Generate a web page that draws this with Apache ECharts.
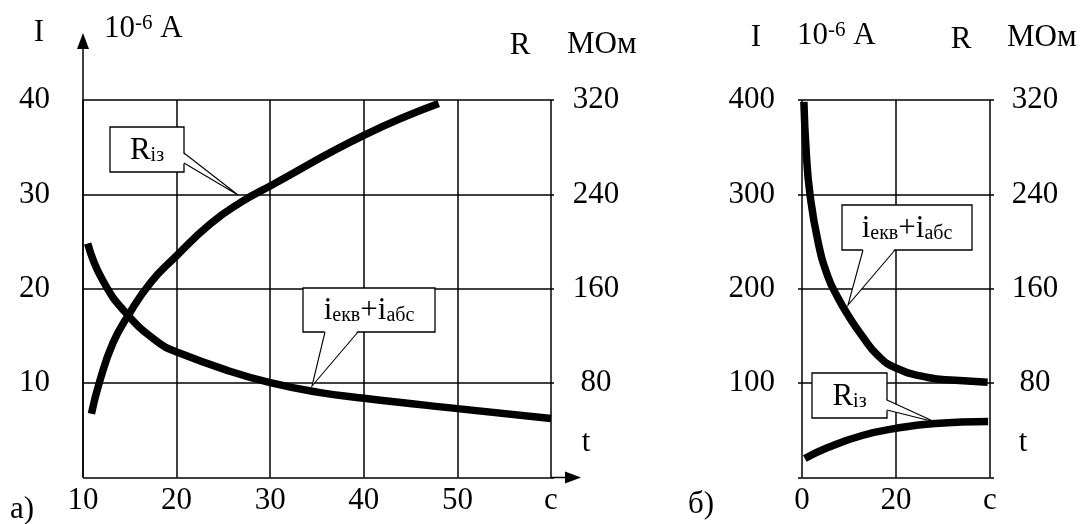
<!DOCTYPE html>
<html><head><meta charset="utf-8">
<script src="https://cdn.jsdelivr.net/npm/echarts@6/dist/echarts.min.js"></script>
<style>html,body{margin:0;padding:0;background:#fff}#c{width:1085px;height:524px}</style>
</head><body><div id="c"></div>
<script>
const FONT = 'Liberation Serif';
// ---- Chart а): t (c), current I (10^-6 A, left axis), resistance R (MOм, right axis)
const aCurT = [10.5, 12.1, 14.8, 18.2, 20, 25.4, 30, 35, 40, 50, 60];
const aCurI = [24.8, 20.9, 17.2, 14.2, 13.3, 11.35, 10.05, 9.05, 8.4, 7.3, 6.25];
const aResT = [10.9, 11.8, 13.2, 14.8, 17.2, 20, 23.6, 26.8, 30.2, 40, 48];
const aResR = [54, 82, 114, 137, 165, 188, 215, 233, 248, 290, 317];
// ---- Chart б)
const bCurT = [0.4, 0.9, 1.7, 3.4, 5.5, 7.7, 9.8, 12.8, 16.2, 20, 26.8, 32.6, 39.5];
const bCurI = [398, 345, 300, 250, 213, 190, 172, 150, 129, 116, 106, 103, 101];
const bResT = [0.6, 5.5, 12.8, 20, 28.3, 39.6];
const bResR = [16.1, 25.4, 35.6, 41.6, 45.8, 47.5];
// ---- tick label texts
const aXLabels = {10:'10', 20:'20', 30:'30', 40:'40', 50:'50', 60:'с'};
const bXLabels = {0:'0', 20:'20', 40:'с'};

const pairs = (xs, ys) => xs.map((x, i) => [x, ys[i]]);
const LW = 1.5;
const tickFont = {fontFamily: FONT, fontSize: 31, color: '#000'};
const splitL = {show: true, lineStyle: {color: '#000', width: LW}};
const noZero = v => (v === 0 ? '' : String(v));

function xAx(grid, min, max, interval, labels) {
  return {type: 'value', gridIndex: grid, min, max, interval,
    axisLine: {show: false}, axisTick: {show: false}, splitLine: splitL,
    axisLabel: Object.assign({margin: 8, showMinLabel: true, showMaxLabel: true,
      formatter: v => labels[v] !== undefined ? labels[v] : ''}, tickFont)};
}
function yAx(grid, pos, max, interval, split, tickLen, margin, align) {
  return {type: 'value', gridIndex: grid, position: pos, min: 0, max, interval,
    axisLine: {show: false},
    axisTick: {show: tickLen > 0, length: tickLen, lineStyle: {color: '#000', width: LW}},
    splitLine: split ? splitL : {show: false},
    axisLabel: Object.assign({margin, align, formatter: noZero}, tickFont)};
}
function line(xi, yi, data) {
  return {type: 'line', xAxisIndex: xi, yAxisIndex: yi, data, showSymbol: false,
    smooth: 0.5, lineStyle: {color: '#000', width: 7.5, cap: 'butt'}, z: 5, silent: true};
}

// ---- graphic helpers (decorations/annotations)
const G = [];
function rich(x, y, text, align) {
  G.push({type: 'text', x, y, z: 100, style: {text, align: align || 'left', verticalAlign: 'middle',
    fill: '#000', font: `31px "${FONT}"`,
    rich: {
      m: {fontFamily: FONT, fontSize: 31, lineHeight: 32, verticalAlign: 'middle', fill: '#000'},
      s: {fontFamily: FONT, fontSize: 21, lineHeight: 12, verticalAlign: 'top', fill: '#000'}
    }}});
}
function seg(pts, w) {
  G.push({type: 'polyline', z: 90, shape: {points: pts}, style: {stroke: '#000', lineWidth: w || LW, fill: null}});
}
function arrowHead(tip, dir) { // dir: 'up' | 'right'
  const [x, y] = tip; let pts;
  if (dir === 'up') pts = [[x, y], [x - 6, y + 16], [x + 6, y + 16]];
  else pts = [[x, y], [x - 16, y - 6], [x - 16, y + 6]];
  G.push({type: 'polygon', z: 90, shape: {points: pts}, style: {fill: '#000'}});
}
function callout(box, a, b, tip, text) {
  const [x1, y1, x2, y2] = box;
  G.push({type: 'rect', z: 110, shape: {x: x1, y: y1, width: x2 - x1, height: y2 - y1},
    style: {fill: '#fff', stroke: '#000', lineWidth: 1.3}});
  const inA = a.slice(), inB = b.slice();
  if (a[0] === b[0]) { inA[0] -= 1.5; inB[0] -= 1.5; } else { inA[1] -= 1.5; inB[1] -= 1.5; }
  G.push({type: 'polygon', z: 111, shape: {points: [inA, inB, tip]}, style: {fill: '#fff'}});
  G.push({type: 'polyline', z: 112, shape: {points: [a, tip, b]}, style: {stroke: '#000', lineWidth: 1.1, fill: null}});
  G.push({type: 'text', x: (x1 + x2) / 2, y: (y1 + y2) / 2 + 1, z: 113, style: {text, align: 'center', verticalAlign: 'middle', fill: '#000',
    rich: {
      m: {fontFamily: FONT, fontSize: 31, lineHeight: 30, verticalAlign: 'middle', fill: '#000'},
      d: {fontFamily: FONT, fontSize: 20, lineHeight: 10, verticalAlign: 'bottom', fill: '#000'}
    }}});
}

// axis arrows of chart а)
seg([[83, 477.5], [83, 42]]); arrowHead([83, 33], 'up');
seg([[551, 477.5], [568, 477.5]]); arrowHead([581, 477.5], 'right');
// headings
rich(39, 33, '{m|I}', 'center');
rich(104, 29, '{m|10}{s|-6}{m| A}');
rich(520, 46, '{m|R}', 'center');
rich(567, 45, '{m|МОм}');
rich(586, 443, '{m|t}', 'center');
rich(10, 510, '{m|а)}');
rich(756, 38, '{m|I}', 'center');
rich(797, 36, '{m|10}{s|-6}{m| A}');
rich(961, 40, '{m|R}', 'center');
rich(1007, 38, '{m|МОм}');
rich(1023, 443, '{m|t}', 'center');
rich(688, 505, '{m|б)}');
// callouts
callout([110, 127, 184, 172], [184, 153], [184, 163], [238, 195], '{m|R}{d|із}');
callout([303, 288, 435, 332], [325, 332], [358, 332], [312, 386], '{m|i}{d|екв}{m|+i}{d|абс}');
callout([842, 205, 972, 250], [863, 250], [895, 250], [848, 305], '{m|i}{d|екв}{m|+i}{d|абс}');
callout([812, 373, 887, 418], [887, 400], [887, 410], [935, 422], '{m|R}{d|із}');

const chart = echarts.init(document.getElementById('c'), null, {renderer: 'canvas'});
chart.setOption({
  animation: false,
  backgroundColor: '#fff',
  grid: [
    {left: 83, top: 100, width: 468, height: 377.5},
    {left: 802, top: 100, width: 188, height: 377.5}
  ],
  xAxis: [xAx(0, 10, 60, 10, aXLabels), xAx(1, 0, 40, 20, bXLabels)],
  yAxis: [
    yAx(0, 'left', 40, 10, true, 0, 33, 'right'),
    yAx(0, 'right', 320, 80, false, 3, 45, 'center'),
    yAx(1, 'left', 400, 100, true, 4, 27, 'right'),
    yAx(1, 'right', 320, 80, false, 4, 45, 'center')
  ],
  series: [
    line(0, 0, pairs(aCurT, aCurI)),
    line(0, 1, pairs(aResT, aResR)),
    line(1, 2, pairs(bCurT, bCurI)),
    line(1, 3, pairs(bResT, bResR))
  ],
  graphic: {elements: G}
});
</script></body></html>
